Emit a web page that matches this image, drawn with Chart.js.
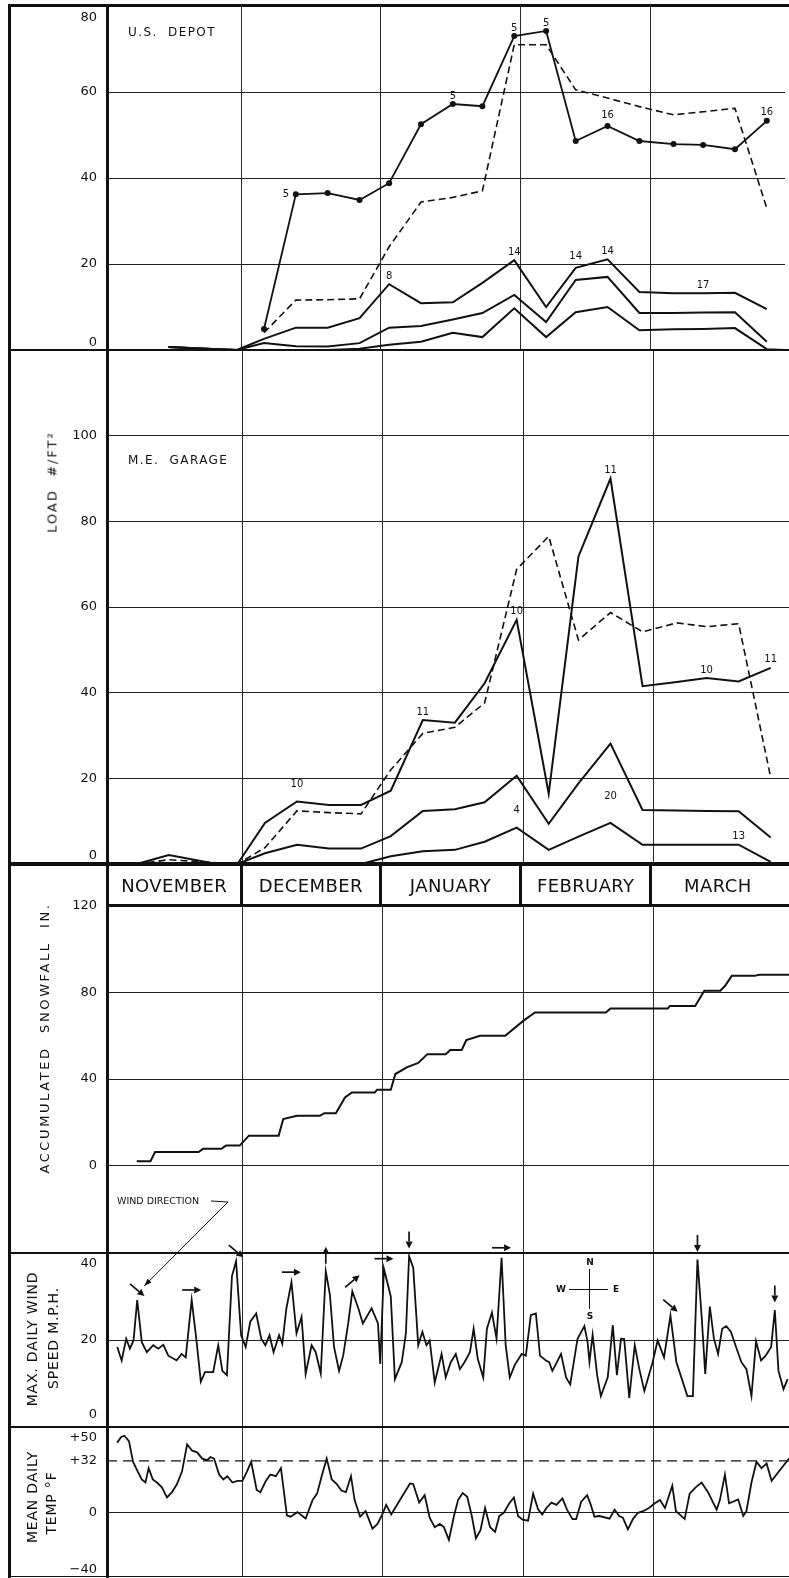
<!DOCTYPE html>
<html>
<head>
<meta charset="utf-8">
<title>Snow loads, snowfall, wind and temperature</title>
<script src="https://cdn.jsdelivr.net/npm/chart.js@4.4.1/dist/chart.umd.min.js"></script>
<style>
html,body{margin:0;padding:0;background:#fff;overflow:hidden;}
#page{position:relative;width:789px;height:1578px;overflow:hidden;background:#fff;font-family:"DejaVu Sans",sans-serif;color:#111;}
#page canvas{position:absolute;left:0;}
.ln{position:absolute;background:#111;z-index:5;}
.tx{position:absolute;white-space:nowrap;z-index:6;color:#111;line-height:1;}
.rt{position:absolute;white-space:nowrap;z-index:6;color:#111;line-height:1;transform:translate(-50%,-50%) rotate(-90deg);}
.ct{position:absolute;white-space:nowrap;z-index:6;color:#111;line-height:1;transform:translate(-50%,-50%);}
</style>
</head>
<body>
<div id="page">
  <!-- frame -->
  <div class="ln" style="left:8px;top:4px;width:781px;height:3px"></div>
  <div class="ln" style="left:8px;top:4px;width:3px;height:1574px"></div>
  <div class="ln" style="left:106px;top:4px;width:3px;height:1574px"></div>
  <div class="ln" style="left:8px;top:349px;width:781px;height:2px"></div>
  <div class="ln" style="left:8px;top:862px;width:781px;height:4px"></div>
  <div class="ln" style="left:106px;top:904px;width:683px;height:3px"></div>
  <div class="ln" style="left:8px;top:1252px;width:781px;height:2px"></div>
  <div class="ln" style="left:8px;top:1426px;width:781px;height:2px"></div>
  <div class="ln" style="left:8px;top:1576px;width:781px;height:1px"></div>

  <!-- panel names -->
  <div class="tx" style="left:128px;top:26px;font-size:12px;letter-spacing:1.4px">U.S.&nbsp; DEPOT</div>
  <div class="tx" style="left:128px;top:454px;font-size:12px;letter-spacing:1.4px">M.E.&nbsp; GARAGE</div>

  <!-- axis titles -->
  <div class="rt" style="left:52px;top:482px;font-size:13px;letter-spacing:2px">LOAD&nbsp; #/FT²</div>
  <div class="rt" style="left:44px;top:1038px;font-size:13px;letter-spacing:2.6px">ACCUMULATED&nbsp; SNOWFALL&nbsp; IN.</div>
  <div class="rt" style="left:32px;top:1339px;font-size:14px;letter-spacing:0.8px">MAX. DAILY WIND</div>
  <div class="rt" style="left:53px;top:1338px;font-size:14px;letter-spacing:0.8px">SPEED M.P.H.</div>
  <div class="rt" style="left:32px;top:1497px;font-size:14px;letter-spacing:0.8px">MEAN DAILY</div>
  <div class="rt" style="left:51px;top:1503px;font-size:14px;letter-spacing:0.8px">TEMP °F</div>

  <!-- wind direction note and compass -->
  <div class="tx" style="left:117px;top:1196px;font-size:9.5px">WIND DIRECTION</div>
  <div class="ln" style="left:569px;top:1289px;width:39px;height:1px;z-index:5"></div>
  <div class="ln" style="left:589px;top:1269px;width:1px;height:40px;z-index:5"></div>
  <div class="ct" style="left:590px;top:1262px;font-size:9px;font-weight:bold">N</div>
  <div class="ct" style="left:590px;top:1316px;font-size:9px;font-weight:bold">S</div>
  <div class="ct" style="left:561px;top:1289px;font-size:9px;font-weight:bold">W</div>
  <div class="ct" style="left:616px;top:1289px;font-size:9px;font-weight:bold">E</div>
</div>
<script>
// ---------------- DATA ----------------
const X_MIN = 0.5, X_MAX = 149.5;                 // days from 1 November
const monthNames = ['NOVEMBER', 'DECEMBER', 'JANUARY', 'FEBRUARY', 'MARCH'];
const monthEdges = [30, 60.6, 91.4, 120];

// weekly measurement days
const weekDays = [35, 42, 49, 56, 62.5, 69.5, 76.5, 83, 90, 97, 103.5, 110.5, 117.5, 125, 131.5, 138.5, 145.5];

// U.S. Depot (load lb/ft2)
const depotNovDays = [14, 21, 29];
const depotNovVals = [0.7, 0.35, 0];
const depotA = [4.9, 36.2, 36.5, 34.9, 38.8, 52.5, 57.2, 56.7, 73, 74.2, 48.6, 52.1, 48.6, 47.9, 47.7, 46.7, 53.3];
const depotB = [4, 11.6, 11.7, 11.9, 24, 34.4, 35.5, 37, 71, 71, 60.5, 58.6, 56.6, 54.7, 55.4, 56.2, 33];
const depotC = [2.6, 5.2, 5.2, 7.4, 15.3, 10.9, 11.1, 15.6, 20.9, 10, 19.1, 21.1, 13.5, 13.2, 13.2, 13.3, 9.5];
const depotD = [1.6, 0.9, 0.8, 1.6, 5.2, 5.6, 7.1, 8.6, 12.8, 6.5, 16.3, 17, 8.6, 8.6, 8.7, 8.8, 1.9];
const depotE = [0, 0, 0, 0.3, 1.2, 1.9, 4, 3, 9.7, 3, 8.8, 10, 4.6, 4.8, 4.9, 5.1, 0.2];
const depotEndDays = [149.5];
const depotEEnd = [0];
const depotALabels = ['', '5', '', '', '', '', '5', '', '5', '5', '', '16', '', '', '', '', '16'];
const depotCLabels = ['', '', '', '', '8', '', '', '', '14', '', '14', '14', '', '', '17', '', ''];

// M.E. Garage (load lb/ft2)
const garageNovDays = [7, 14, 24.5, 29];
const garageFNov = [0, 2.1, 0, 0];
const garageGNov = [0, 1, 0.3, 0];
const garageStartDays = [29];
const garageStartVals = [0];
const garageF = [9.6, 14.6, 13.8, 13.8, 17.1, 33.6, 33, 42.2, 57, 16.4, 71.8, 90, 41.5, 42.5, 43.4, 42.6, 45.8];
const garageG = [3.8, 12.4, 12, 11.7, 22, 30.5, 31.9, 37.6, 68.8, 76.5, 52.3, 58.7, 54.2, 56.3, 55.4, 56.1, 20.2];
const garageH = [2.5, 4.5, 3.6, 3.6, 6.5, 12.4, 12.8, 14.4, 20.6, 9.4, 18.8, 28.1, 12.6, 12.5, 12.4, 12.3, 6.2];
const garageI = [0, 0, 0, 0, 1.8, 3, 3.3, 5.2, 8.5, 3.3, 6.4, 9.6, 4.5, 4.5, 4.5, 4.5, 0.5];
const garageFLabels = ['', '10', '', '', '', '11', '', '', '10', '', '', '11', '', '', '10', '', '11'];
const garageILabels = ['', '', '', '', '', '', '', '', '4', '', '', '20', '', '', '', '13', ''];

// accumulated snowfall (in.)
const snowDays = [7, 10, 11, 20.5, 21.5, 25.5, 26.5, 29.5, 31.5, 38,
  39, 42, 47, 48, 50.5, 52.5, 54, 59, 59.5, 62.5,
  63.5, 66, 68.5, 70.5, 74.5, 75.5, 78, 79, 82, 87.5,
  91.5, 94, 109.5, 110.5, 123, 123.5, 129, 131, 134.5, 135.5,
  137, 142, 143, 149.5];
const snowVals = [2, 2, 6.2, 6.2, 7.7, 7.7, 9.2, 9.2, 13.8, 13.8,
  21.5, 23, 23, 24.2, 24.2, 31.5, 33.8, 33.8, 35, 35,
  42.3, 45.4, 47.4, 51.5, 51.5, 53.4, 53.4, 58, 60, 60,
  67, 70.8, 70.8, 72.6, 72.6, 73.8, 73.8, 80.8, 80.8, 83,
  87.7, 87.7, 88.2, 88.2];

// max daily wind speed (m.p.h.)
const windDays = [2.75, 3.7, 4.7, 5.5, 6.3, 7.1, 8.1, 9.2, 10.6, 11.7,
  12.8, 13.9, 15.7, 16.8, 17.7, 19, 20, 21, 21.9, 23.7,
  24.8, 25.7, 26.7, 27.8, 28.7, 29.8, 30.8, 31.8, 33.1, 34.2,
  35.1, 36, 36.9, 38.1, 38.8, 39.7, 40.8, 41.9, 43, 43.9,
  45.2, 46.1, 47.2, 48.3, 49.2, 50.1, 51.2, 52.1, 53.2, 54.1,
  55.4, 56.4, 58.3, 59.7, 60.2, 61, 62.5, 63.4, 64.9, 65.8,
  66.5, 67.4, 68.5, 69.4, 70.3, 71, 72.1, 73.6, 74.5, 75.6,
  76.7, 77.6, 78.6, 79.8, 80.6, 81.5, 82.7, 83.5, 84.6, 85.6,
  86.7, 87.6, 88.5, 89.6, 91.1, 92, 93.1, 94.2, 95.1, 96.4,
  97.1, 97.8, 98.6, 99.7, 100.8, 101.7, 103.3, 104.8, 105.5, 105.9,
  106.6, 107.6, 108.4, 109.9, 111, 111.9, 112.8, 113.5, 114.6, 115.8,
  116.8, 117.9, 119.7, 120.8, 122.2, 123.6, 124.9, 126.1, 127.3, 128.5,
  129.5, 130.4, 131.2, 132.2, 133.1, 134, 134.9, 135.8, 136.8, 137.8,
  139.1, 140.2, 141.3, 142.3, 143.4, 144.4, 145.6, 146.4, 147.2, 148.3,
  149.2];
const windVals = [18.4, 15.3, 20.3, 18, 19.9, 29.2, 19.5, 17.2, 18.8, 18,
  18.9, 16.4, 15.3, 16.8, 16, 29.2, 20.3, 10.4, 12.6, 12.6,
  18.8, 12.9, 11.9, 34.7, 38.1, 21.1, 18.4, 24.2, 26.1, 20.3,
  18.8, 21.1, 17.2, 21.1, 19.1, 27.3, 33.3, 21.5, 25.3, 12.2,
  18.8, 17.2, 12.3, 35.8, 30.4, 18.4, 12.9, 16.4, 23.8, 31.2,
  27.3, 23.8, 27.3, 23.8, 14.5, 36.4, 30, 11, 14.9, 21.5,
  39.3, 36.6, 18.8, 21.9, 18.8, 19.9, 10.2, 16.8, 11.4, 14.9,
  16.8, 13.3, 14.9, 17.2, 22.6, 15.7, 11.4, 22.6, 26.3, 20.3,
  38.9, 18.8, 11.4, 14.3, 16.8, 16.4, 25.7, 26.1, 16.4, 15.3,
  14.9, 12.9, 14.5, 16.8, 11.4, 9.8, 20.3, 23.2, 19.5, 15,
  21.2, 11.8, 7.1, 11.4, 23.4, 11.9, 20.3, 20.2, 6.7, 18.8,
  13.3, 8.3, 14.9, 19.9, 16, 25.6, 14.9, 11, 7.1, 7.1,
  38.5, 25.7, 12.2, 27.7, 20.3, 16.8, 22.6, 23.2, 21.9, 18.8,
  14.9, 13.3, 7.1, 19.7, 15.3, 16.4, 18.4, 26.9, 12.9, 8.7,
  11];
const windArrowDays = [7.1, 19, 28.7, 40.8, 48.3, 54.1, 61, 66.5, 86.7, 123.6, 129.5, 146.4];
const windArrowDirs = ['SE', 'E', 'SE', 'E', 'N', 'NE', 'E', 'S', 'E', 'SE', 'S', 'S'];

// mean daily temperature (deg F)
const tempDays = [2.7, 3.6, 4.3, 5.3, 6.2, 7.2, 8.1, 8.9, 9.6, 10.5,
  11.4, 12.5, 13.6, 14.7, 15.8, 16.9, 18, 19.1, 20.2, 21.3,
  22.4, 23.1, 23.9, 25, 25.9, 26.8, 27.9, 29, 30.1, 31.1,
  32, 33.2, 34, 35.2, 36.2, 37.4, 38.5, 39.8, 40.6, 42.1,
  43.2, 43.9, 45.4, 46.4, 47.4, 48.5, 49.6, 50.7, 51.7, 52.7,
  53.8, 54.6, 55.8, 57, 58.5, 59.6, 60.6, 61.5, 62.6, 64.5,
  66.7, 67.4, 68.7, 69.9, 71, 72.1, 73.2, 74.1, 75.2, 76.3,
  77.2, 78.2, 79.2, 80.2, 81.1, 82.1, 83.1, 84.2, 85.3, 86.2,
  87.2, 88.4, 89.4, 90.3, 91.3, 92.5, 93.6, 94.7, 95.6, 96.5,
  97.6, 98.7, 100, 101, 102.2, 103, 104.1, 105.4, 106.2, 107,
  108.1, 110.3, 111.4, 112.4, 113.2, 114.3, 115.4, 116.5, 117.6, 118.9,
  120.2, 121.3, 122.4, 124, 124.8, 125.6, 126.7, 127.8, 129.1, 130.4,
  131.8, 133.7, 134.4, 135.5, 136.4, 137.3, 138.4, 139.5, 140.2, 141.3,
  142.4, 143.5, 144.6, 145.7, 149.5];
const tempVals = [43.3, 46.8, 47.6, 44.2, 31.4, 25.5, 20.5, 18.6, 27.5, 20.5,
  18.6, 15.6, 9.3, 12.6, 17.6, 25.5, 42.3, 38.3, 37.3, 33.4,
  32.4, 34.4, 33.4, 23.5, 20.5, 22.5, 18.6, 19.6, 19.6, 25.5,
  31.4, 14, 12.6, 19.6, 23.5, 22.5, 27.5, -1.8, -2.6, 0.2,
  -2.2, -3.8, 7.7, 11.7, 22.5, 33.4, 20.5, 17.6, 13.6, 12.6,
  22.5, 7.7, -2.6, 0.8, -10, -7.1, -1.5, 4.7, -1.2, 7.7,
  18, 17.6, 6.1, 10.7, -3.2, -9.1, -7.1, -9.1, -17, -2.2,
  7.7, 12, 9.7, -2.2, -16, -11, 2.8, -9.1, -12, -2.2,
  -0.2, 5.7, 9.3, -2.2, -4.5, -5.1, 11.7, 1.8, -1.2, 2.8,
  6.1, 4.7, 8.7, 1.8, -4.1, -4.1, 6.7, 10.7, 4.7, -2.6,
  -2.2, -3.8, 1.8, -2.2, -3.2, -10.5, -4.1, -0.2, 0.8, 2.8,
  5.7, 7.7, 2.8, 16.6, 0.8, -1.2, -4.1, 11.7, 15.6, 18.6,
  12.6, 1.8, 7.7, 23.5, 5.7, 6.7, 8.1, -2.2, 0.8, 18.6,
  31.4, 27.5, 30.4, 19.6, 33.4];
const freezingLine = 32;

// tick labels
const depotTicks = [0, 20, 40, 60, 80];
const depotTickText = ['0', '20', '40', '60', '80'];
const garageTicks = [0, 20, 40, 60, 80, 100];
const garageTickText = ['0', '20', '40', '60', '80', '100'];
const snowTicks = [0, 40, 80, 120];
const snowTickText = ['0', '40', '80', '120'];
const windTicks = [0, 20, 40];
const windTickText = ['0', '20', '40'];
const tempTicks = [-40, 0, 32, 50];
const tempTickText = ['\u221240', '0', '+32', '+50'];

// ---------------- HELPERS ----------------
Chart.defaults.font.family = '"DejaVu Sans", sans-serif';
const INK = '#111';
const page = document.getElementById('page');
const W = 789, LEFT = 107;

function pts(days, vals) {
  const out = [];
  days.forEach((d, i) => { if (vals[i] !== null && vals[i] !== undefined) out.push({x: d, y: vals[i]}); });
  return out;
}
function line(data, extra) {
  return Object.assign({data, borderColor: INK, borderWidth: 2, pointRadius: 0, fill: false, tension: 0}, extra || {});
}

function tickNudge(map) {
  return {
    id: 'tickNudge',
    beforeDraw(chart) {
      const s = chart.scales.y;
      if (!s || typeof s.getLabelItems !== 'function') return;
      const items = s.getLabelItems(chart.chartArea);
      items.forEach((it, i) => {
        const t = s.ticks[i];
        if (!t || it._nudged) return;
        const d = map[t.value];
        if (d && it.options && it.options.translation) it.options.translation[1] += d;
        it._nudged = true;
      });
    }
  };
}

function pointLabels(groups) {
  return {
    id: 'pointLabels',
    afterDatasetsDraw(chart) {
      const {ctx, scales: {x, y}} = chart;
      ctx.save();
      ctx.font = '10px "DejaVu Sans", sans-serif';
      ctx.fillStyle = INK;
      ctx.textAlign = 'center';
      ctx.textBaseline = 'middle';
      groups.forEach(g => g.labels.forEach((t, i) => {
        if (!t) return;
        const sh = (g.shift && g.shift[i]) || [0, -8];
        ctx.fillText(t, x.getPixelForValue(g.days[i]) + sh[0], y.getPixelForValue(g.vals[i]) + sh[1]);
      }));
      ctx.restore();
    }
  };
}

function panel(top, bottom, padTop, padBottom, yMin, yMax, ticks, tickText, gridVals, datasets, plugins) {
  const cv = document.createElement('canvas');
  const h = bottom - top + padTop + padBottom;
  cv.width = W; cv.height = h;
  cv.style.width = W + 'px'; cv.style.height = h + 'px';
  cv.style.top = (top - padTop) + 'px';
  page.appendChild(cv);
  return new Chart(cv, {
    type: 'line',
    data: {datasets},
    options: {
      responsive: false, animation: false, devicePixelRatio: 1,
      layout: {padding: {top: padTop, bottom: padBottom, left: 0, right: 0}},
      plugins: {legend: {display: false}, tooltip: {enabled: false}},
      scales: {
        x: {
          type: 'linear', position: 'bottom', min: X_MIN, max: X_MAX,
          afterBuildTicks: s => { s.ticks = monthEdges.map(v => ({value: v})); },
          afterFit: s => { s.height = 0; },
          ticks: {display: false},
          grid: {drawTicks: false, color: '#2a2a2a', lineWidth: 1},
          border: {display: false}
        },
        y: {
          type: 'linear', min: yMin, max: yMax,
          afterBuildTicks: s => { s.ticks = ticks.map(v => ({value: v})); },
          afterFit: s => { s.width = LEFT; },
          ticks: {
            autoSkip: false, padding: 10, color: INK,
            font: {size: 13},
            callback: v => tickText[ticks.indexOf(v)]
          },
          grid: {
            drawTicks: false, lineWidth: 1,
            color: c => (c.tick && gridVals.includes(c.tick.value)) ? '#222' : 'rgba(0,0,0,0)'
          },
          border: {display: false}
        }
      }
    },
    plugins: plugins || []
  });
}

// ---------------- PANELS ----------------
const DASH = [7, 4];

// U.S. Depot
const depot = panel(6, 350, 20, 20, 0, 80, depotTicks, depotTickText, [20, 40, 60], [
  line(pts(weekDays, depotA), {borderWidth: 1.8, pointRadius: 3, pointBackgroundColor: INK, pointBorderWidth: 0}),
  line(pts(weekDays, depotB), {borderWidth: 1.6, borderDash: DASH}),
  line(pts(depotNovDays, depotNovVals).concat(pts(weekDays, depotC))),
  line(pts(depotNovDays, depotNovVals).concat(pts(weekDays, depotD))),
  line(pts(depotNovDays, depotNovVals).concat(pts(weekDays, depotE), pts(depotEndDays, depotEEnd)))
], [
  tickNudge({80: 12, 0: -7}),
  pointLabels([
    {days: weekDays, vals: depotA, labels: depotALabels, shift: {1: [-10, 0], 11: [0, -11]}},
    {days: weekDays, vals: depotC, labels: depotCLabels, shift: {10: [0, -11]}}
  ])
]);

// M.E. Garage
panel(350, 864, 20, 20, 0, 120, garageTicks, garageTickText, [20, 40, 60, 80, 100], [
  line(pts(garageNovDays, garageFNov).concat(pts(weekDays, garageF))),
  line(pts(garageNovDays, garageGNov).concat(pts(weekDays, garageG)), {borderWidth: 1.6, borderDash: DASH}),
  line(pts(garageStartDays, garageStartVals).concat(pts(weekDays, garageH))),
  line(pts(garageStartDays, garageStartVals).concat(pts(weekDays, garageI)))
], [
  tickNudge({0: -8}),
  pointLabels([
    {days: weekDays, vals: garageF, labels: garageFLabels, shift: {1: [0, -17]}},
    {days: weekDays, vals: garageI, labels: garageILabels, shift: {8: [0, -17], 11: [0, -26]}}
  ])
]);

// Accumulated snowfall
panel(906, 1252, 20, 20, -40, 120, snowTicks, snowTickText, [0, 40, 80], [
  line(pts(snowDays, snowVals))
]);

// Wind
function arrow(ctx, cx, cy, ang, len) {
  const c = Math.cos(ang), s = Math.sin(ang);
  const tx = cx - c * len / 2, ty = cy - s * len / 2;
  const hx = cx + c * len / 2, hy = cy + s * len / 2;
  const hl = 7, hw = 3.5;
  const bx = hx - c * hl, by = hy - s * hl;
  ctx.beginPath(); ctx.moveTo(tx, ty); ctx.lineTo(bx, by); ctx.stroke();
  ctx.beginPath(); ctx.moveTo(hx, hy);
  ctx.lineTo(bx - s * hw, by + c * hw); ctx.lineTo(bx + s * hw, by - c * hw);
  ctx.closePath(); ctx.fill();
}
const dirAngle = {E: 0, SE: 40 * Math.PI / 180, S: Math.PI / 2, N: -Math.PI / 2, NE: -40 * Math.PI / 180};
const windPlugin = {
  id: 'windDirections',
  afterDatasetsDraw(chart) {
    const {ctx, chartArea: ca, scales: {x, y}} = chart;
    ctx.save();
    ctx.strokeStyle = INK; ctx.fillStyle = INK; ctx.lineWidth = 1.7;
    let first = null;
    windArrowDays.forEach((d, k) => {
      const i = windDays.indexOf(d);
      const dir = windArrowDirs[k];
      const vertical = dir === 'N' || dir === 'S';
      const px = x.getPixelForValue(d), py = y.getPixelForValue(windVals[i]);
      const cx = px, cy = py - (vertical ? 16 : 10);
      arrow(ctx, cx, cy, dirAngle[dir], vertical ? 17 : 19);
      if (!first) first = [cx, cy];
    });
    // leader from the "WIND DIRECTION" note
    ctx.lineWidth = 1;
    const sx = ca.left + 104, sy = ca.top - 52;
    const bx = ca.left + 121, by = ca.top - 51;
    const ex = first[0] + 7, ey = first[1] - 4;
    ctx.beginPath(); ctx.moveTo(sx, sy); ctx.lineTo(bx, by); ctx.lineTo(ex, ey); ctx.stroke();
    const a = Math.atan2(ey - by, ex - bx);
    ctx.beginPath();
    ctx.moveTo(ex, ey);
    ctx.lineTo(ex - 8 * Math.cos(a - 0.35), ey - 8 * Math.sin(a - 0.35));
    ctx.lineTo(ex - 8 * Math.cos(a + 0.35), ey - 8 * Math.sin(a + 0.35));
    ctx.closePath(); ctx.fill();
    ctx.restore();
  }
};
panel(1253, 1427, 64, 20, 0, 40, windTicks, windTickText, [20], [
  line(pts(windDays, windVals), {borderWidth: 1.8})
], [tickNudge({40: 11, 0: -12}), windPlugin]);

// Temperature
panel(1427, 1577, 20, 20, -40, 53, tempTicks, tempTickText, [0], [
  line(pts(tempDays, tempVals), {borderWidth: 1.8}),
  line([{x: X_MIN, y: freezingLine}, {x: X_MAX, y: freezingLine}], {borderWidth: 1.2, borderDash: [10, 6]})
], [tickNudge({50: 6, '-40': -7})]);

// ---------------- MONTH ROW ----------------
const xs = depot.scales.x;
const edgesPx = [X_MIN].concat(monthEdges, [X_MAX]).map(v => xs.getPixelForValue(v));
monthNames.forEach((n, i) => {
  const d = document.createElement('div');
  d.className = 'ct';
  d.style.left = ((edgesPx[i] + edgesPx[i + 1]) / 2) + 'px';
  d.style.top = '886px';
  d.style.fontSize = '18px';
  d.style.letterSpacing = '0.4px';
  d.textContent = n;
  page.appendChild(d);
});
monthEdges.forEach(v => {
  const d = document.createElement('div');
  d.className = 'ln';
  d.style.left = (xs.getPixelForValue(v) - 1.5) + 'px';
  d.style.top = '864px';
  d.style.width = '3px';
  d.style.height = '42px';
  page.appendChild(d);
});
</script>
</body>
</html>
